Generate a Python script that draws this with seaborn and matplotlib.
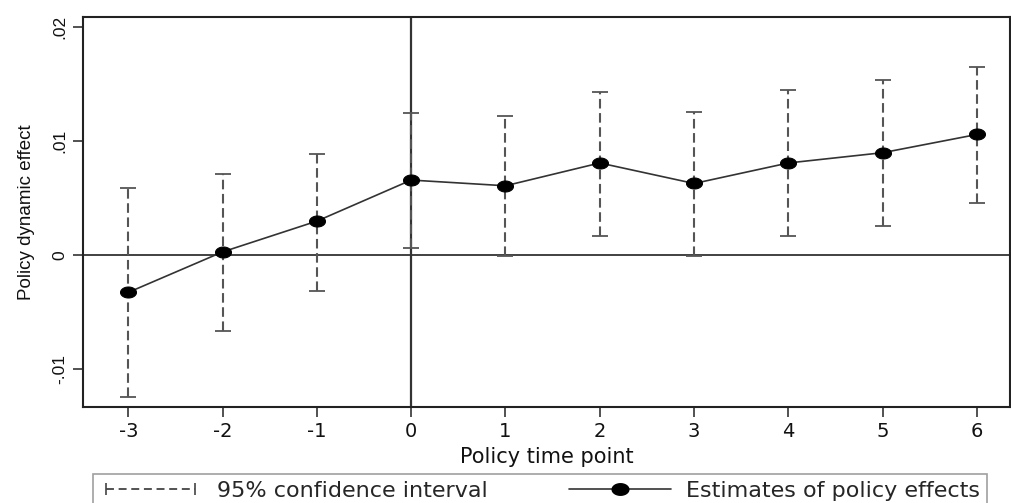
import matplotlib.pyplot as plt
import seaborn as sns
import pandas as pd
import numpy as np
from matplotlib.lines import Line2D
from matplotlib.legend_handler import HandlerLine2D
from matplotlib.path import Path

sns.set_theme(style="white")
plt.rcParams['font.family'] = ['DejaVu Sans']

# values
periods = [-3, -2, -1, 0, 1, 2, 3, 4, 5, 6]
estimate = [-0.00325, 0.0003, 0.0030, 0.0066, 0.0061, 0.0081, 0.0063, 0.0081, 0.0090, 0.0106]
ci_upper = [0.0059, 0.0071, 0.0089, 0.0125, 0.0122, 0.0143, 0.0126, 0.0145, 0.0154, 0.0165]
ci_lower = [-0.0124, -0.0066, -0.0031, 0.0006, -0.0001, 0.0017, -0.0001, 0.0017, 0.0026, 0.0046]
y_ticks = [-0.01, 0, 0.01, 0.02]
y_ticklabels = ['-.01', '0', '.01', '.02']

df = pd.DataFrame({'period': periods, 'est': estimate, 'lo': ci_lower, 'hi': ci_upper})

# the source image is stretched sideways, so dots are wide ellipses
t = np.linspace(0, 2 * np.pi, 64)
ellipse = Path(np.column_stack([1.45 * np.cos(t), np.sin(t)]), closed=True)

fig = plt.figure(figsize=(10.11, 5.03), dpi=100)
ax = fig.add_axes([83 / 1011, 1 - 407 / 503, 927 / 1011, 390 / 503])

ax.axhline(0, color='#333333', lw=1.3, zorder=1)
ax.axvline(0, color='#333333', lw=1.6, zorder=1)

# confidence intervals: dashed bars with solid caps
eb = ax.errorbar(df['period'], df['est'],
                 yerr=[df['est'] - df['lo'], df['hi'] - df['est']],
                 fmt='none', ecolor='#555555', elinewidth=1.5,
                 capsize=6, capthick=1.3, zorder=2)
eb[2][0].set_linestyle((0, (4.6, 2.2)))
for cap in eb[1]:
    cap.set_color('#333333')

sns.lineplot(data=df, x='period', y='est', ax=ax, color='#333333', lw=1.2,
             marker=ellipse, markersize=11.5, markeredgecolor='black',
             markerfacecolor='black', zorder=3)

ax.set_xlim(-3.48, 6.35)
ax.set_ylim(-0.0133, 0.0209)
ax.set_xticks(periods)
ax.set_xticklabels([str(p) for p in periods], fontsize=14)
ax.set_yticks(y_ticks)
ax.set_yticklabels(y_ticklabels, rotation=90, va='center',
                   fontsize=12.5, family='Liberation Sans')
ax.tick_params(axis='both', which='major', direction='out', length=7, width=1.2,
               color='#333333', labelcolor='#111111', bottom=True, left=True, pad=4)
for s in ax.spines.values():
    s.set_color('#222222')
    s.set_linewidth(1.5)

ax.set_xlabel('Policy time point', fontsize=15, color='#111111', labelpad=4)
ax.set_ylabel('Policy dynamic effect', fontsize=13.5, color='#111111', labelpad=13,
              family='Liberation Sans')

ci_handle = Line2D([], [], color='#444444', lw=1.3, linestyle=(0, (4.4, 2.6)),
                   marker='|', markersize=9, markeredgewidth=1.2)
est_handle = Line2D([], [], color='#333333', lw=1.2, marker=ellipse, markersize=12,
                    markerfacecolor='black', markeredgecolor='black')
leg = fig.legend([ci_handle, est_handle],
                 ['95% confidence interval', 'Estimates of policy effects'],
                 handler_map={ci_handle: HandlerLine2D(numpoints=2)},
                 loc='upper left', bbox_to_anchor=(93 / 1011, 1 - 474 / 503, 894 / 1011, 0),
                 mode='expand', ncol=2, fontsize=16, handlelength=4.6,
                 handletextpad=0.7, frameon=True, fancybox=False,
                 borderpad=0.3, borderaxespad=0)
leg.get_frame().set_edgecolor('#888888')
leg.get_frame().set_linewidth(1.2)

plt.savefig('out.png', dpi=100)
